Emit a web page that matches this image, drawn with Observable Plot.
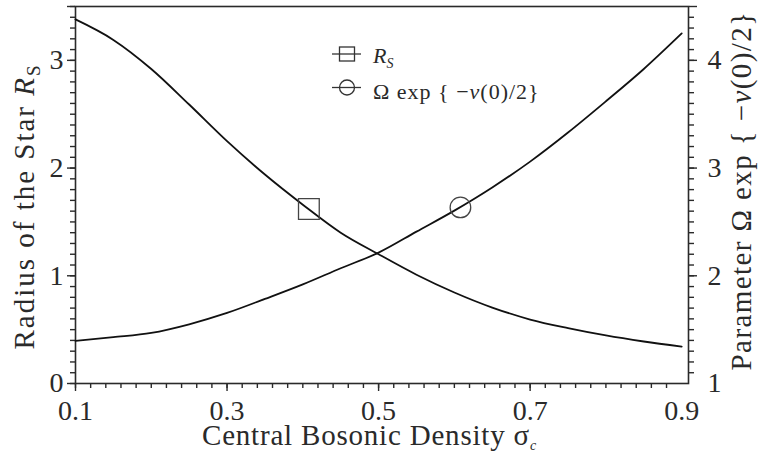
<!DOCTYPE html>
<html><head><meta charset="utf-8">
<script src="https://cdn.jsdelivr.net/npm/d3@7"></script>
<script src="https://cdn.jsdelivr.net/npm/@observablehq/plot@0.6"></script>
<style>
body{margin:0;background:#fff;}
#chart{position:relative;width:763px;height:460px;}
#chart svg text{font-family:"Liberation Serif","Times New Roman",serif;}
</style></head><body><div id="chart"></div>
<script>
// ---- data ----
const sigma  = [0.10,0.15,0.20,0.25,0.30,0.35,0.40,0.45,0.50,0.55,0.60,0.65,0.70,0.75,0.80,0.85,0.90];
const radius = [3.38,3.19,2.92,2.59,2.25,1.94,1.66,1.40,1.20,1.01,0.845,0.705,0.594,0.514,0.446,0.39,0.342];
const omega  = [1.395,1.43,1.47,1.55,1.655,1.785,1.92,2.07,2.215,2.41,2.605,2.82,3.06,3.33,3.62,3.92,4.25];
const markerR = {sigma: [0.408], value: [1.62]};
const markerO = {sigma: [0.608], value: [2.635]};
const xLabels = [0.1,0.3,0.5,0.7,0.9];
const xMajorTicks = [0.1,0.3,0.5,0.7];
const xMinorTicks = d3.range(5,45).map(i => +(i*0.02).toFixed(2));
const leftLabels = [0,1,2,3];
const leftMajor = [0,1,2,3,3.5];
const leftMinor = d3.range(0,36).map(i => i/10);
const rightLabels = [1,2,3,4];
const rightMajor = [2,3,4,4.5];
const rightMinor = d3.range(11,45).map(i => i/10);
const leftDomain = [0,3.5];
const rightDomain = [1,4.5];
const offset = rightDomain[0] - leftDomain[0];

const rows = sigma.map((s,i) => ({s, r: radius[i], o: omega[i]}));
const mR = markerR.sigma.map((s,i) => ({s, v: markerR.value[i]}));
const mO = markerO.sigma.map((s,i) => ({s, v: markerO.value[i]}));

const ink = "#2a2a2a";
const font = "Liberation Serif, Times New Roman, serif";

const plot = Plot.plot({
  width: 763, height: 460,
  marginLeft: 75, marginRight: 75, marginTop: 6, marginBottom: 77,
  x: {domain: [0.1, 0.909]},
  y: {domain: leftDomain},
  style: {fontFamily: font, background: "white", color: ink, fontSize: "28px"},
  marks: [
    Plot.axisX({ticks: xMinorTicks, tickSize: 5, tickFormat: () => "", label: null, stroke: ink, strokeWidth: 1.4}),
    Plot.axisX({ticks: xMajorTicks, tickSize: 8, tickFormat: () => "", label: null, stroke: ink, strokeWidth: 1.4}),
    Plot.axisX({ticks: xLabels, tickSize: 0, tickPadding: 17, fontSize: 28, label: null, fill: ink, tickFormat: d => d.toFixed(1)}),
    Plot.axisY({anchor: "left", ticks: leftMinor, tickSize: 5, tickFormat: () => "", label: null, stroke: ink, strokeWidth: 1.4}),
    Plot.axisY({anchor: "left", ticks: leftMajor, tickSize: 8, tickFormat: () => "", label: null, stroke: ink, strokeWidth: 1.4}),
    Plot.axisY({anchor: "left", ticks: leftLabels, tickSize: 0, tickPadding: 12, fontSize: 28, label: null, fill: ink, tickFormat: d => String(d)}),
    Plot.axisY({anchor: "right", ticks: rightMinor.map(v => v - offset), tickSize: 5, tickFormat: () => "", label: null, stroke: ink, strokeWidth: 1.4}),
    Plot.axisY({anchor: "right", ticks: rightMajor.map(v => v - offset), tickSize: 8, tickFormat: () => "", label: null, stroke: ink, strokeWidth: 1.4}),
    Plot.axisY({anchor: "right", ticks: rightLabels.map(v => v - offset), tickSize: 0, tickPadding: 19, fontSize: 28, label: null, fill: ink, tickFormat: d => String(Math.round(d + offset))}),
    Plot.frame({stroke: ink, strokeWidth: 1.6}),
    Plot.line(rows, {x: "s", y: "r", curve: "monotone-x", stroke: "#111", strokeWidth: 1.8}),
    Plot.line(rows, {x: "s", y: d => d.o - offset, curve: "monotone-x", stroke: "#111", strokeWidth: 1.8}),
    Plot.dot(mR, {x: "s", y: "v", symbol: "square", r: 11.7, stroke: "#444", strokeWidth: 1.3, fill: "none"}),
    Plot.dot(mO, {x: "s", y: d => d.v - offset, symbol: "circle", r: 10.3, stroke: "#444", strokeWidth: 1.3, fill: "none"})
  ]
});
document.getElementById("chart").appendChild(plot);

const svg = d3.select(plot);
svg.selectAll('g[aria-label$="tick label"]').style("font-size", "28px").attr("font-size", 28);
const yS = plot.scale("y"), xS = plot.scale("x");
const yMid = (yS.apply(leftDomain[0]) + yS.apply(leftDomain[1])) / 2;
const xMid = (xS.apply(0.1) + xS.apply(0.909)) / 2;

// left axis title
const lt = svg.append("text")
  .attr("transform", `translate(34,${yMid + 12}) rotate(-90)`)
  .attr("text-anchor", "middle").attr("fill", ink)
  .style("font-size", "29px").style("letter-spacing", "2px");
lt.append("tspan").text("Radius of the Star ");
lt.append("tspan").style("font-style", "italic").text("R");
lt.append("tspan").style("font-size", "19px").attr("dy", 6).text("S");

// right axis title
const rt = svg.append("text")
  .attr("transform", `translate(751,${yMid - 4}) rotate(-90)`)
  .attr("text-anchor", "middle").attr("fill", ink)
  .style("font-size", "29px").style("letter-spacing", "1.4px");
rt.append("tspan").text("Parameter \u03A9 exp { \u2212");
rt.append("tspan").style("font-style", "italic").text("\u03BD");
rt.append("tspan").text("(0)/2}");

// x axis title
const xt = svg.append("text")
  .attr("x", xMid - 12).attr("y", 445)
  .attr("text-anchor", "middle").attr("fill", ink)
  .style("font-size", "29px").style("letter-spacing", "0.8px");
xt.append("tspan").text("Central Bosonic Density \u03C3");
xt.append("tspan").style("font-size", "14px").style("font-style", "italic").attr("dy", 5).text("c");

// legend
const lg = svg.append("g").attr("fill", "none").attr("stroke", "#333").attr("stroke-width", 1.3);
lg.append("line").attr("x1", 332).attr("x2", 361).attr("y1", 54).attr("y2", 54);
lg.append("rect").attr("x", 339.5).attr("y", 47).attr("width", 15).attr("height", 14);
lg.append("line").attr("x1", 332).attr("x2", 361).attr("y1", 87.5).attr("y2", 87.5);
lg.append("circle").attr("cx", 347).attr("cy", 87.5).attr("r", 7.5);

const l1 = svg.append("text").attr("x", 373).attr("y", 62.5).attr("fill", ink)
  .attr("text-anchor", "start").style("font-size", "22px");
l1.append("tspan").style("font-style", "italic").text("R");
l1.append("tspan").style("font-style", "italic").style("font-size", "14px").attr("dy", 5).text("S");

const l2 = svg.append("text").attr("x", 373).attr("y", 98.5).attr("fill", ink)
  .attr("text-anchor", "start").style("font-size", "22px").style("letter-spacing", "1px");
l2.append("tspan").text("\u03A9 exp { \u2212");
l2.append("tspan").style("font-style", "italic").text("\u03BD");
l2.append("tspan").text("(0)/2}");
</script>
</body></html>
